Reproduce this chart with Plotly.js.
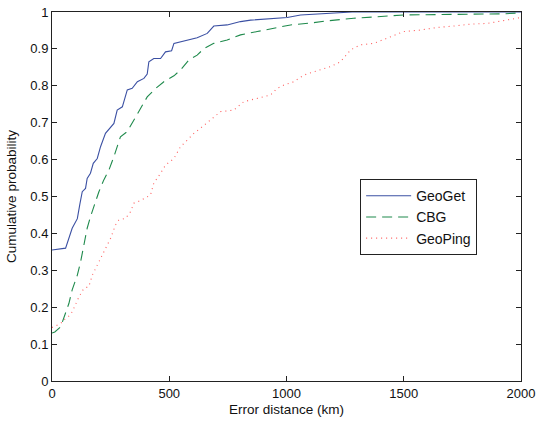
<!DOCTYPE html>
<html>
<head>
<meta charset="utf-8">
<script src="https://cdn.plot.ly/plotly-3.0.1.min.js"></script>
<style>html,body{margin:0;padding:0;background:#fff;}#chart{width:536px;height:422px;}</style>
</head>
<body>
<div id="chart"></div>
<script>
const seriesNames = ["GeoGet", "CBG", "GeoPing"];

const geoGetX = [0,58,86,108,119,129,143,150,164,176,193,207,228,264,278,300,321,342,364,392,406,413,434,463,484,510,520,562,619,662,690,747,804,847,946,1003,1060,1188,1280,2000];
const geoGetY = [0.355,0.36,0.414,0.44,0.48,0.513,0.522,0.549,0.563,0.59,0.603,0.635,0.671,0.698,0.734,0.743,0.789,0.793,0.811,0.82,0.832,0.865,0.874,0.874,0.892,0.895,0.915,0.922,0.930,0.942,0.962,0.965,0.974,0.978,0.983,0.985,0.992,0.996,1.0,1.0];

const cbgX = [0,12,37,58,72,86,108,122,136,150,164,182,200,221,243,264,278,292,321,349,378,406,442,477,520,548,584,619,648,690,747,804,875,946,1017,1102,1174,1287,1401,1500,1784,1925,2000];
const cbgY = [0.13,0.133,0.147,0.183,0.21,0.247,0.287,0.323,0.373,0.414,0.445,0.482,0.513,0.545,0.572,0.608,0.635,0.662,0.676,0.707,0.743,0.77,0.793,0.811,0.827,0.843,0.87,0.883,0.901,0.915,0.924,0.938,0.947,0.955,0.965,0.97,0.976,0.983,0.987,0.992,0.994,0.995,0.998];

const geoPingX = [0,37,58,79,93,115,136,157,172,193,221,250,271,285,314,335,349,378,420,434,463,484,520,548,577,605,633,676,719,775,818,875,932,960,989,1031,1074,1131,1188,1230,1273,1315,1372,1429,1500,1571,1642,1713,1784,1856,1926,2000];
const geoPingY = [0.145,0.156,0.17,0.179,0.197,0.228,0.251,0.256,0.287,0.314,0.35,0.387,0.423,0.436,0.441,0.459,0.482,0.489,0.504,0.536,0.563,0.585,0.603,0.635,0.653,0.671,0.685,0.707,0.73,0.734,0.757,0.766,0.775,0.793,0.802,0.811,0.829,0.841,0.852,0.865,0.897,0.911,0.915,0.929,0.947,0.951,0.958,0.962,0.967,0.969,0.976,0.985];

const xTicks = [0,500,1000,1500,2000];
const yTicks = [0,0.1,0.2,0.3,0.4,0.5,0.6,0.7,0.8,0.9,1];
const yTickText = ["0","0.1","0.2","0.3","0.4","0.5","0.6","0.7","0.8","0.9","1"];

const FONT = "'Liberation Sans', Arial, Helvetica, sans-serif";

const traces = [
  {x: geoGetX, y: geoGetY, name: seriesNames[0], mode: "lines",
   line: {color: "#3b50a3", width: 1.1}},
  {x: cbgX, y: cbgY, name: seriesNames[1], mode: "lines",
   line: {color: "#1f8a4c", width: 1.1, dash: "10px,6px"}},
  {x: geoPingX, y: geoPingY, name: seriesNames[2], mode: "lines",
   line: {color: "#ff5c5c", width: 1.1, dash: "1px,4px"}}
];

const axisCommon = {
  showgrid: false, zeroline: false, showline: true, mirror: "ticks",
  linecolor: "#222", linewidth: 1, ticks: "inside", ticklen: 5, tickcolor: "#222",
  tickfont: {family: FONT, size: 13, color: "#111"}
};

const layout = {
  width: 536, height: 422,
  margin: {l: 52, r: 15, t: 12, b: 41, pad: 0},
  paper_bgcolor: "#fff", plot_bgcolor: "#fff",
  font: {family: FONT, size: 13, color: "#111"},
  showlegend: true,
  legend: {x: 0.657, y: 0.547, xanchor: "left", yanchor: "top",
           bordercolor: "#222", borderwidth: 1, bgcolor: "#fff", itemwidth: 45,
           font: {family: FONT, size: 14, color: "#111"}, tracegroupgap: 0},
  xaxis: Object.assign({}, axisCommon, {
    range: [0, 2000], tickvals: xTicks, ticktext: xTicks.map(String),
    title: {text: "Error distance (km)", font: {family: FONT, size: 13.5, color: "#111"}, standoff: 4}
  }),
  yaxis: Object.assign({}, axisCommon, {
    range: [0, 1], tickvals: yTicks, ticktext: yTickText,
    title: {text: "Cumulative probability", font: {family: FONT, size: 13.5, color: "#111"}, standoff: 10}
  })
};

Plotly.newPlot("chart", traces, layout, {displayModeBar: false, staticPlot: true});
</script>
</body>
</html>
